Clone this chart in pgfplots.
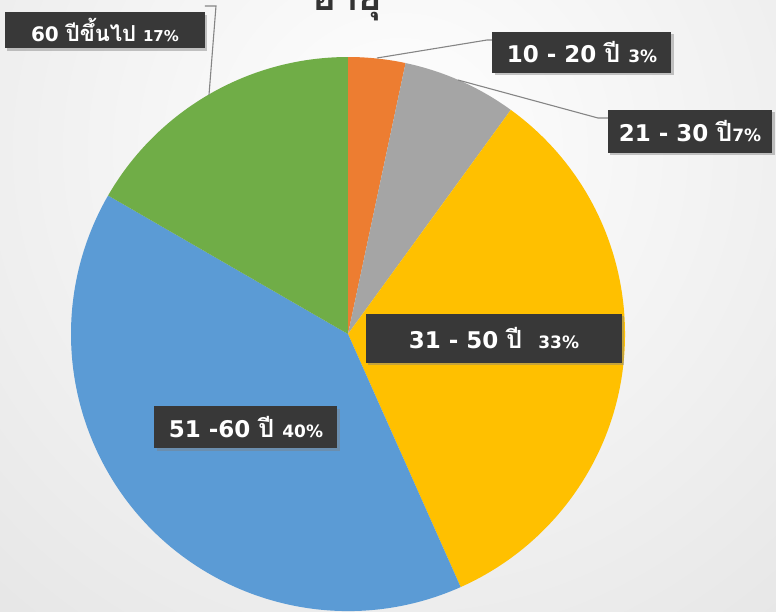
\documentclass[border=0pt]{standalone}
\usepackage{pgfplots}
\pgfplotsset{compat=1.18}
\usepackage{pgfplotstable}
\usepackage{fontspec}
\usetikzlibrary{shadows}
\newfontfamily\thaifont[Script=Thai]{Loma}
\newfontfamily\dv{DejaVu Sans}
\definecolor{pc0}{HTML}{ED7D31}
\definecolor{pc1}{HTML}{A5A5A5}
\definecolor{pc2}{HTML}{FFC000}
\definecolor{pc3}{HTML}{5B9BD5}
\definecolor{pc4}{HTML}{70AD47}
\definecolor{lblc}{HTML}{383838}
\definecolor{leader}{HTML}{858585}
\definecolor{bgout}{HTML}{CFCFCF}
\pgfplotstableread{
group value
1020 1
2130 2
3150 10
5160 12
60up 5
}\agedata
\begin{document}
\begin{tikzpicture}[lbl/.style={fill=lblc, text=white, font=\dv\bfseries, inner sep=0pt, align=center,
  drop shadow={opacity=0.45, shadow xshift=2.5pt, shadow yshift=-2.5pt}}]
\gdef\cum{0}%
\foreach \i in {0,...,4}{%
  \pgfplotstablegetelem{\i}{value}\of\agedata%
  \pgfmathsetmacro\s{90-360*\cum/30}%
  \pgfmathsetmacro\cumnew{\cum+\pgfplotsretval}%
  \pgfmathsetmacro\e{90-360*\cumnew/30}%
  \expandafter\xdef\csname sa\i\endcsname{\s}%
  \expandafter\xdef\csname ea\i\endcsname{\e}%
  \xdef\cum{\cumnew}%
}%
\begin{axis}[scale only axis, width=776pt, height=611pt, xmin=0, xmax=776, ymin=0, ymax=611,
  hide axis, clip=false]
\coordinate (BL) at (axis cs:0,0);
\coordinate (TR) at (axis cs:776,611);
\shade[inner color=white, outer color=bgout] (axis cs:-800,-739) rectangle (axis cs:1600,1661);
\pgfplotsinvokeforeach{0,...,4}{%
  \fill[pc#1] (axis cs:348,277) -- ([shift={(\csname sa#1\endcsname:277pt)}]axis cs:348,277)
    arc[start angle=\csname sa#1\endcsname, end angle=\csname ea#1\endcsname, radius=277pt] -- cycle;
}
% leader lines
\draw[leader, line width=1.1pt] (axis cs:205,605) -- (axis cs:216,605) -- (axis cs:209,516);
\draw[leader, line width=1.1pt] (axis cs:377,553) -- (axis cs:487,571) -- (axis cs:493,571);
\draw[leader, line width=1.1pt] (axis cs:458,531) -- (axis cs:598,493) -- (axis cs:608,493);
% title
\node[anchor=base, text=black!80, font=\thaifont\bfseries\fontsize{40}{44}\selectfont] at (axis cs:347,601) {อายุ};
% labels
\node[lbl, minimum width=200pt, minimum height=36pt] at (axis cs:105,581)
  {\fontsize{20}{22}\selectfont 60 {\thaifont\fontsize{22}{22}\selectfont ปีขึ้นไป} \fontsize{15}{16}\selectfont 17\%};
\node[lbl, minimum width=179pt, minimum height=41pt] at (axis cs:582,559)
  {\fontsize{23}{24}\selectfont 10 - 20 {\thaifont\fontsize{25}{24}\selectfont ปี} \fontsize{17}{18}\selectfont 3\%};
\node[lbl, minimum width=164pt, minimum height=43pt] at (axis cs:690,480)
  {\fontsize{23}{24}\selectfont 21 - 30 {\thaifont\fontsize{25}{24}\selectfont ปี}\fontsize{17}{18}\selectfont 7\%};
\node[lbl, minimum width=256pt, minimum height=49pt] at (axis cs:494,273)
  {\fontsize{23}{24}\selectfont 31 - 50 {\thaifont\fontsize{25}{24}\selectfont ปี} \ \fontsize{17}{18}\selectfont 33\%};
\node[lbl, minimum width=183pt, minimum height=42pt] at (axis cs:246,184)
  {\fontsize{23}{24}\selectfont 51 -60 {\thaifont\fontsize{25}{24}\selectfont ปี} \fontsize{17}{18}\selectfont 40\%};
\end{axis}
\pgfresetboundingbox
\path[use as bounding box] (BL) rectangle (TR);
\end{tikzpicture}
\end{document}
